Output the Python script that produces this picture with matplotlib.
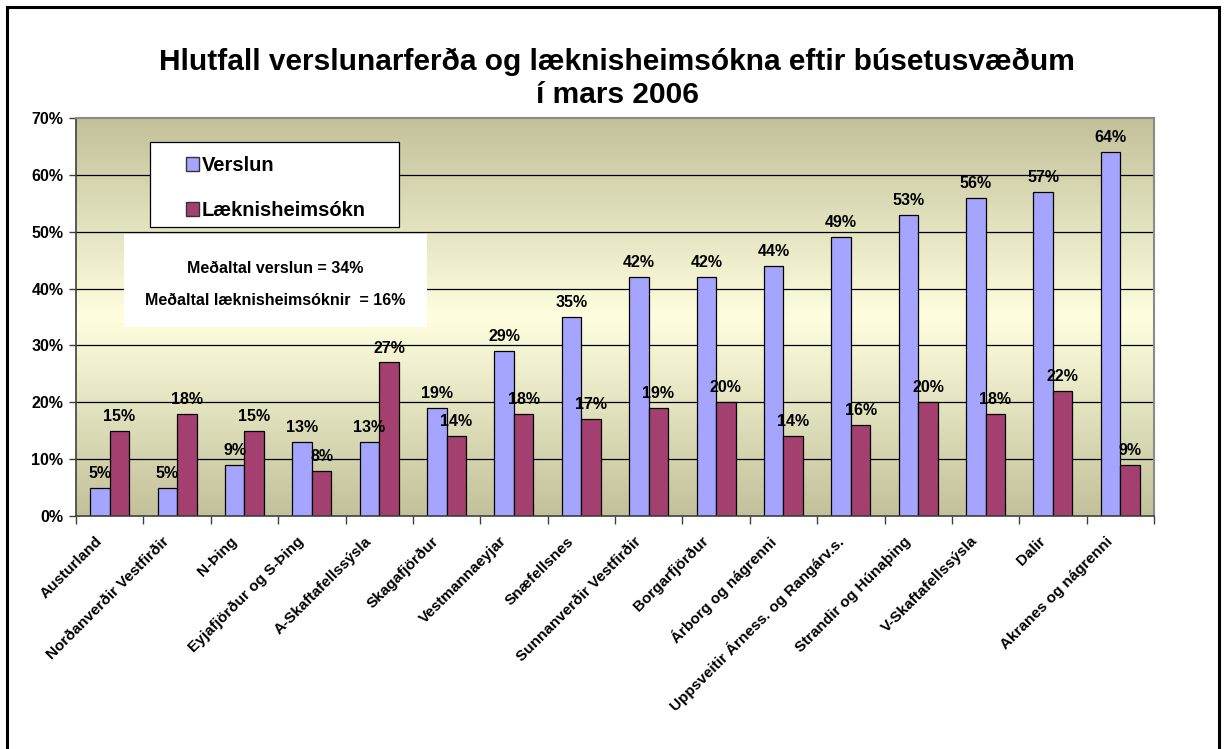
import numpy as np
import matplotlib
matplotlib.use("Agg")
import matplotlib.pyplot as plt
import matplotlib.transforms as mtransforms
from matplotlib.colors import LinearSegmentedColormap
from matplotlib.patches import Rectangle

plt.rcParams['font.family'] = ['Liberation Sans', 'DejaVu Sans']
plt.rcParams['font.weight'] = 'bold'

# gögn
svaedi = ["Austurland", "Norðanverðir Vestfirðir", "N-Þing", "Eyjafjörður og S-Þing",
          "A-Skaftafellssýsla", "Skagafjörður", "Vestmannaeyjar", "Snæfellsnes",
          "Sunnanverðir Vestfirðir", "Borgarfjörður", "Árborg og nágrenni",
          "Uppsveitir Árness. og Rangárv.s.", "Strandir og Húnaþing",
          "V-Skaftafellssýsla", "Dalir", "Akranes og nágrenni"]
verslun = [5, 5, 9, 13, 13, 19, 29, 35, 42, 42, 44, 49, 53, 56, 57, 64]
laeknis = [15, 18, 15, 8, 27, 14, 18, 17, 19, 20, 14, 16, 20, 18, 22, 9]
medaltal_verslun = 34
medaltal_laeknis = 16

c_verslun = "#a5a5ff"
c_laeknis = "#a3406f"

fig = plt.figure(figsize=(12.28, 7.49), dpi=100)
ax = fig.add_axes([76/1228, 1-516/749, (1154-76)/1228, (516-118)/749])

# ramminn utan um myndina
frame = Rectangle((7/1228, -0.05), (1219-7)/1228, 1-7/749+0.05, transform=fig.transFigure,
                  fill=False, edgecolor="black", linewidth=2.2)
fig.patches.append(frame)

n = len(svaedi)
x = np.arange(n)
w = 0.29

# litabakgrunnur: dökkt efst og neðst, ljóst í miðju
cmap = LinearSegmentedColormap.from_list("bg", ["#c2c19a", "#ffffdf", "#c2c19a"])
grad = np.linspace(0, 1, 256).reshape(-1, 1)
ax.imshow(grad, cmap=cmap, aspect="auto", extent=(-0.5, n-0.5, 0, 70), origin="upper", zorder=0)

ax.set_xlim(-0.5, n-0.5)
ax.set_ylim(0, 70)

for yv in range(10, 70, 10):
    ax.axhline(yv, color="black", linewidth=0.9, zorder=1)

b1 = ax.bar(x - w/2, verslun, w, color=c_verslun, edgecolor="black", linewidth=0.9, zorder=2)
b2 = ax.bar(x + w/2, laeknis, w, color=c_laeknis, edgecolor="black", linewidth=0.9, zorder=2)

for bars, vals in [(b1, verslun), (b2, laeknis)]:
    for rect, v in zip(bars, vals):
        ax.annotate(f"{v}%", (rect.get_x() + rect.get_width()/2, v), xytext=(0, 5),
                    textcoords="offset points", ha="center", va="bottom",
                    fontsize=11.5, fontweight="bold")

# ásar
ax.set_yticks(range(0, 71, 10))
ax.set_yticklabels([f"{t}%" for t in range(0, 71, 10)], fontsize=11.5, fontweight="bold")
ax.tick_params(axis="y", direction="out", length=5, width=1, color="#404040", pad=4)

ax.set_xticks(x)
ax.set_xticklabels(svaedi, rotation=45, ha="right", rotation_mode="anchor",
                   fontsize=11, fontweight="bold")
ax.tick_params(axis="x", which="major", length=0, pad=13)
ax.set_xticks(np.arange(-0.5, n, 1), minor=True)
ax.tick_params(axis="x", which="minor", direction="out", length=6, width=1, color="#404040")
shift = mtransforms.ScaledTranslation(-0.15, 0, fig.dpi_scale_trans)
for lab in ax.get_xticklabels():
    lab.set_transform(lab.get_transform() + shift)

for s in ["top", "right"]:
    ax.spines[s].set_color("#8a8a8a")
    ax.spines[s].set_linewidth(1.5)
for s in ["left", "bottom"]:
    ax.spines[s].set_color("#404040")
    ax.spines[s].set_linewidth(1.2)

# titill
fig.text(0.5025, 1-78.5/749, "Hlutfall verslunarferða og læknisheimsókna eftir búsetusvæðum\ní mars 2006",
         ha="center", va="center", fontsize=21.5, fontweight="bold", linespacing=1.2)

# skýringar
leg_box = Rectangle((150/1228, 1-227/749), (399-150)/1228, (227-142)/749, transform=fig.transFigure,
                    facecolor="white", edgecolor="black", linewidth=0.9, zorder=4)
fig.patches.append(leg_box)
handles = [Rectangle((0, 0), 1, 1, facecolor=c_verslun, edgecolor="#333333"),
           Rectangle((0, 0), 1, 1, facecolor=c_laeknis, edgecolor="#333333")]
leg = fig.legend(handles, ["Verslun", "Læknisheimsókn"], loc="upper left",
                 bbox_to_anchor=(186/1228, 1-156/749), prop={"size": 14.5, "weight": "bold"},
                 frameon=False, handlelength=0.65, handleheight=0.7,
                 handletextpad=0.15, labelspacing=1.28, borderpad=0, borderaxespad=0)
leg.set_zorder(5)

# box með meðaltölum
note = Rectangle((124/1228, 1-327/749), (427-124)/1228, (327-234)/749, transform=fig.transFigure,
                 facecolor="white", edgecolor="none", zorder=4)
fig.patches.append(note)
fig.text(275/1228, 1-268/749, f"Meðaltal verslun = {medaltal_verslun}%", ha="center", va="center",
         fontsize=11.5, fontweight="bold", zorder=6)
fig.text(275/1228, 1-301/749, f"Meðaltal læknisheimsóknir  = {medaltal_laeknis}%", ha="center",
         va="center", fontsize=11.5, fontweight="bold", zorder=6)

fig.savefig("out.png", dpi=100)
